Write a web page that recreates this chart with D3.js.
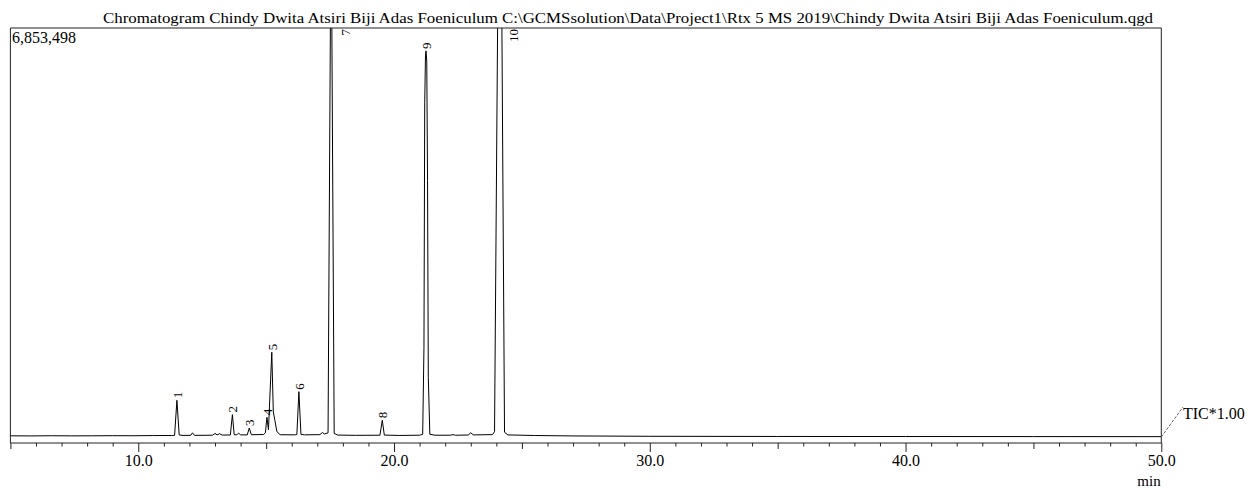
<!DOCTYPE html>
<html>
<head>
<meta charset="utf-8">
<script src="https://cdn.jsdelivr.net/npm/d3@7"></script>
<style>
  html, body { margin: 0; padding: 0; background: #fff; }
  svg { display: block; }
  text { font-family: "Liberation Serif", "Times New Roman", serif; fill: #000; }
</style>
</head>
<body>
<svg id="chart" width="1249" height="488"></svg>
<script>
// ---- Data ----
const titleText = "Chromatogram Chindy Dwita Atsiri Biji Adas Foeniculum C:\\GCMSsolution\\Data\\Project1\\Rtx 5 MS 2019\\Chindy Dwita Atsiri Biji Adas Foeniculum.qgd";
const maxIntensity = 6853498;
const scaleLabel = "TIC*1.00";
const xUnit = "min";

// retention time (min) of trace points
const rt = [
  5.0, 5.8, 6.6, 7.4, 8.2, 9.0, 9.8, 10.6, 11.3, 11.42, 11.51, 11.6, 11.75,
  12.05, 12.12, 12.2, 12.9, 13.0, 13.08, 13.18, 13.28, 13.6, 13.68, 13.75,
  13.85, 13.92, 14.0, 14.26, 14.34, 14.42, 14.9, 14.97, 15.03, 15.09, 15.22,
  15.28, 15.34, 15.42, 15.55, 16.1, 16.2, 16.28, 16.36, 16.5, 17.1, 17.2,
  17.28, 17.42, 17.54, 17.66, 17.8, 18.5, 19.45, 19.54, 19.62, 20.2, 21.0,
  21.12, 21.17, 21.2, 21.23, 21.25, 21.28, 21.31, 21.34, 21.4, 21.6, 22.2, 22.3, 22.4,
  22.9, 23.0, 23.1, 23.85, 23.93, 24.14, 24.32, 24.45, 25.5, 27.0, 30.0,
  35.0, 40.0, 45.0, 50.0
];
// TIC intensity of trace points
const intensity = [
  20000, 18000, 21000, 19000, 20000, 22000, 21000, 24000, 25000, 28000, 615000, 35000, 26000,
  28000, 70000, 27000, 30000, 60000, 35000, 55000, 32000, 34000, 375000, 40000,
  35000, 65000, 36000, 35000, 150000, 38000, 42000, 70000, 330000, 120000, 1420000,
  420000, 280000, 90000, 38000, 36000, 40000, 760000, 45000, 36000, 40000, 75000,
  50000, 70000, 9000000, 60000, 32000, 28000, 30000, 280000, 32000, 26000, 30000,
  45000, 1500000, 5600000, 6400000, 6470000, 6300000, 4300000, 1000000, 45000, 30000, 30000, 40000, 30000,
  33000, 70000, 35000, 40000, 90000, 12000000, 80000, 35000, 25000, 18000, 12000,
  9000, 8000, 7000, 6000
];

// labelled peaks
const peakNo = [1, 2, 3, 4, 5, 6, 7, 8, 9, 10];
const peakRT = [11.51, 13.68, 14.34, 15.03, 15.22, 16.28, 17.54, 19.54, 21.25, 24.14];

// axis ticks
const tickValues = d3.range(5, 50.5, 1);
const tickLabels = [10, 20, 30, 40, 50];

// ---- Layout ----
const svg = d3.select("#chart");
const plotLeft = 10.4, plotRight = 1161.3, plotTop = 28, zeroY = 437, axisY = 443;

const x = d3.scaleLinear().domain([5, 50]).range([plotLeft, plotRight]);
const y = d3.scaleLinear().domain([0, maxIntensity]).range([zeroY, plotTop]);

svg.append("rect").attr("width", 1249).attr("height", 488).attr("fill", "#fff");

// title
svg.append("text")
  .attr("x", 103).attr("y", 23)
  .attr("font-size", 15.5)
  .attr("textLength", 1050)
  .attr("lengthAdjust", "spacingAndGlyphs")
  .text(titleText);

// clip
svg.append("clipPath").attr("id", "plotclip")
  .append("rect").attr("x", plotLeft).attr("y", plotTop)
  .attr("width", plotRight - plotLeft).attr("height", axisY - plotTop);

// trace
const pts = rt.map((t, i) => [t, intensity[i]]);
const line = d3.line().x(d => x(d[0])).y(d => y(d[1]));
svg.append("path")
  .attr("clip-path", "url(#plotclip)")
  .attr("d", line(pts))
  .attr("fill", "none")
  .attr("stroke", "#000")
  .attr("stroke-width", 1)
  .attr("stroke-linejoin", "round");

// frame
svg.append("path")
  .attr("d", `M${plotLeft},${axisY}V${plotTop}H${plotRight}V${axisY}`)
  .attr("stroke", "#222").attr("stroke-width", 1).attr("fill", "none");

// x axis
const axis = d3.axisBottom(x)
  .tickValues(tickValues)
  .tickSize(9)
  .tickPadding(3)
  .tickFormat(d => tickLabels.includes(d) ? d3.format(".1f")(d) : "");
const gx = svg.append("g").attr("transform", `translate(0,${axisY})`).call(axis);
gx.select(".domain").attr("stroke", "#222").attr("d", `M${plotLeft},0H${plotRight}`);
gx.selectAll(".tick line")
  .attr("stroke", "#222")
  .attr("y2", d => d % 10 === 0 ? 9 : (d % 5 === 0 ? 6 : 3.5));
gx.selectAll(".tick text")
  .attr("font-family", "Liberation Serif, Times New Roman, serif")
  .attr("font-size", 16)
  .attr("fill", "#000");

// unit label
svg.append("text")
  .attr("x", 1149).attr("y", 486)
  .attr("text-anchor", "middle")
  .attr("font-size", 15)
  .text(xUnit);

// max intensity label
svg.append("text")
  .attr("x", 12).attr("y", 43)
  .attr("font-size", 16)
  .text(d3.format(",")(maxIntensity));

// TIC label with connector
svg.append("line")
  .attr("x1", plotRight).attr("y1", zeroY)
  .attr("x2", 1183).attr("y2", 407)
  .attr("stroke", "#666").attr("stroke-width", 1)
  .attr("stroke-dasharray", "3,1.5");
svg.append("text")
  .attr("x", 1183).attr("y", 419)
  .attr("font-size", 16)
  .text(scaleLabel);

// peak labels
const labels = svg.append("g").attr("font-size", 13);
peakNo.forEach((n, i) => {
  const t = peakRT[i];
  const v = intensity[rt.indexOf(t)];
  const clipped = v > maxIntensity;
  const px = x(t) + (clipped ? 14 : 0.5);
  const py = clipped ? plotTop + 1 : y(v) - 2;
  labels.append("text")
    .attr("transform", `translate(${px},${py}) rotate(-90)`)
    .attr("text-anchor", clipped ? "end" : "start")
    .attr("dy", "0.35em")
    .attr("fill", "#223")
    .text(n);
});
</script>
</body>
</html>
